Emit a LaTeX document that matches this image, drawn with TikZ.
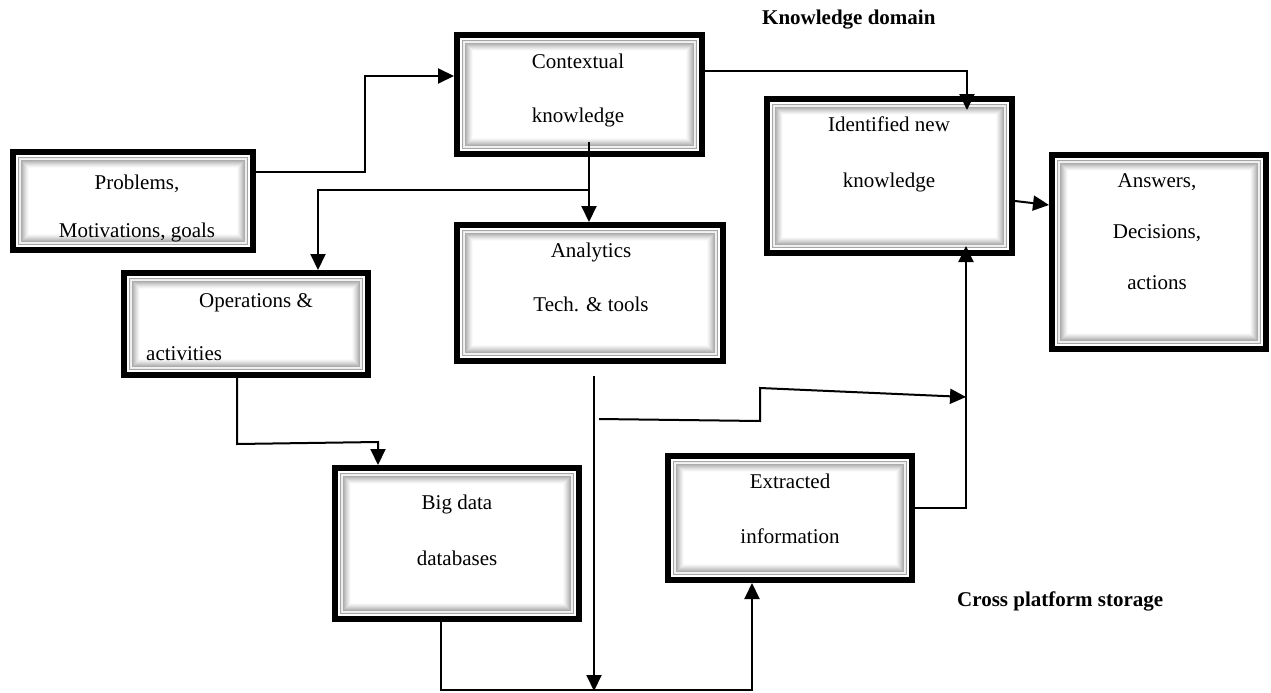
\documentclass[tikz,border=0pt]{standalone}
\usepackage{fontspec}
\setmainfont{Liberation Serif}
\usetikzlibrary{arrows.meta,calc}

\tikzset{
  % framed box: heavy black rim, thin white gap, then a soft grey bevel
  bevelbox/.style={rectangle, draw=black, line width=6pt, fill=white,
    inner sep=0pt,
    path picture={
      \foreach \d/\c in {5.4/gray!70, 6.4/gray!15, 7.4/gray!10, 8.4/gray!65,
                         9.4/gray!55, 10.4/gray!45, 11.4/gray!35, 12.4/gray!26,
                         13.4/gray!18, 14.4/gray!10, 15.4/gray!4}{
        \draw[\c, line width=1.05pt]
          ([shift={(\d pt,\d pt)}]path picture bounding box.south west)
          rectangle
          ([shift={(-\d pt,-\d pt)}]path picture bounding box.north east);
      }
    }},
  boxtext/.style={font=\fontsize{21}{54}\selectfont, align=center,
    inner sep=0pt, anchor=north},
  note/.style={font=\fontsize{21}{24}\selectfont\bfseries, inner sep=0pt},
  conn/.style={line width=2pt, black},
  arr/.style={-{Triangle[length=16pt,width=15pt]}},
}

\begin{document}
\begin{tikzpicture}[x=1pt, y=-1pt]
\useasboundingbox (0,0) rectangle (1271,693);

% boxes (outer rim size minus the rim width)
\node[bevelbox, minimum width=240pt, minimum height=98pt]  (prob)  at (133,201)   {};
\node[bevelbox, minimum width=245pt, minimum height=119pt] (ctx)   at (579.5,94.5) {};
\node[bevelbox, minimum width=266pt, minimum height=136pt] (anal)  at (590,293)   {};
\node[bevelbox, minimum width=245pt, minimum height=154pt] (ident) at (889.5,176) {};
\node[bevelbox, minimum width=214pt, minimum height=194pt] (ans)   at (1159,252)  {};
\node[bevelbox, minimum width=244pt, minimum height=102pt] (ops)   at (246,324)   {};
\node[bevelbox, minimum width=244pt, minimum height=151pt] (big)   at (457,543.5) {};
\node[bevelbox, minimum width=244pt, minimum height=124pt] (extr)  at (790,518)   {};

% box texts
\node[boxtext, font=\fontsize{21}{48}\selectfont] (prob-t) at (137,175)
  {Problems,\\Motivations, goals};
\node[boxtext] (ctx-t)   at (578,54)   {Contextual\\knowledge};
\node[boxtext] (anal-t)  at (591,243)  {Analytics\\Tech. \& tools};
\node[boxtext, font=\fontsize{21}{56}\selectfont] (ident-t) at (889,117)
  {Identified new\\knowledge};
\node[boxtext, font=\fontsize{21}{51}\selectfont] (ans-t) at (1157,173)
  {Answers,\\Decisions,\\actions};
\node[boxtext, anchor=north west, align=left, font=\fontsize{21}{53}\selectfont]
  (ops-t) at (146,293) {\hspace*{53pt}Operations \&\\activities};
\node[boxtext, font=\fontsize{21}{56}\selectfont] (big-t) at (457,495)
  {Big data\\databases};
\node[boxtext, font=\fontsize{21}{55}\selectfont] (extr-t) at (790,474)
  {Extracted\\information};

% side labels
\node[note, anchor=west] (kd)  at (762,20)  {Knowledge domain};
\node[note, anchor=west] (cps) at (957,601) {Cross platform storage};

% bend points
\coordinate (a1) at (365,172);
\coordinate (a2) at (365,76);
\coordinate (b0) at (589,142);
\coordinate (b1) at (589,190);
\coordinate (b2) at (318,190);
\coordinate (c1) at (967,71);
\coordinate (c2) at (967,110);
\coordinate (e1) at (237,444);
\coordinate (e2) at (378,442);
\coordinate (f0) at (594,376);
\coordinate (f1) at (594,691);
\coordinate (g1) at (441,690);
\coordinate (g2) at (752,690);
\coordinate (h0) at (599,419);
\coordinate (h1) at (760,421);
\coordinate (h2) at (760,388);
\coordinate (h3) at (966,397);
\coordinate (j1) at (966,508);
\coordinate (j2) at (966,246);

% connectors
\draw[conn, arr] (prob.east |- a1) -- (a1) -- (a2) -- (ctx.west |- a2);
\draw[conn, arr] (b0) -- (b0 |- anal.north);
\draw[conn, arr] (b1) -- (b2) -- (b2 |- ops.north);
\draw[conn, arr] (ctx.east |- c1) -- (c1) -- (c2);
\draw[conn, arr] ([yshift=-25pt]ident.east) -- ([yshift=47pt]ans.west);
\draw[conn, arr] (ops.south -| e1) -- (e1) -- (e2) -- (e2 |- big.north);
\draw[conn, arr] (f0) -- (f1);
\draw[conn, arr] (big.south -| g1) -- (g1) -- (g2) -- (g2 |- extr.south);
\draw[conn, arr] (h0) -- (h1) -- (h2) -- (h3);
\draw[conn, arr] (extr.east |- j1) -- (j1) -- (j2);
\end{tikzpicture}
\end{document}
